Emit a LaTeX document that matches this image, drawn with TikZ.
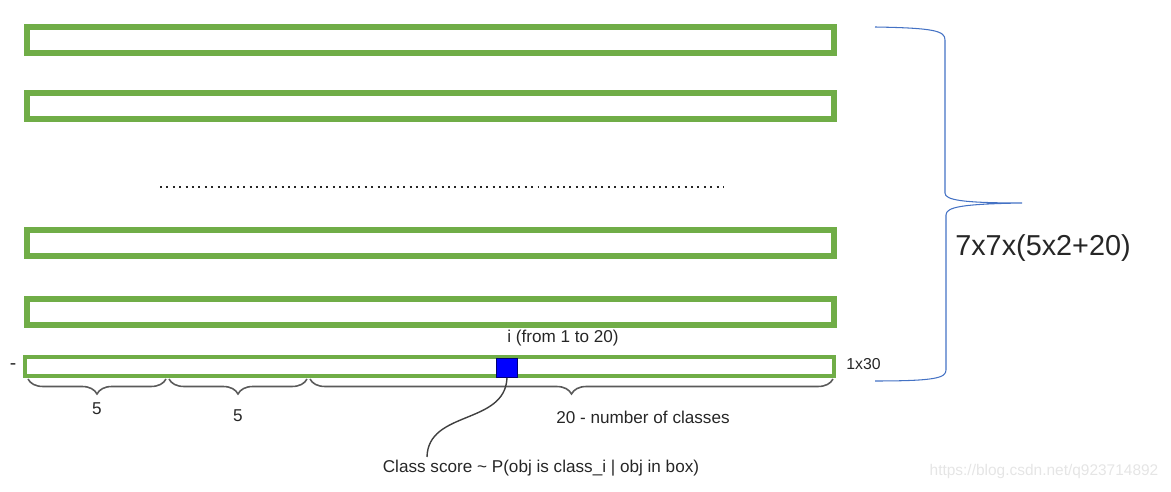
\documentclass[tikz,border=0pt]{standalone}
\usepackage{fontspec}
\setmainfont{Liberation Sans}
\usetikzlibrary{calc,positioning,decorations.pathreplacing}
\definecolor{rowgreen}{RGB}{112,173,71}
\definecolor{bracegray}{RGB}{90,90,90}
\definecolor{bigblue}{RGB}{68,114,196}
\tikzset{
  rowbox/.style={draw=rowgreen,line width=0.12cm,minimum width=16.14cm,minimum height=0.52cm,inner sep=0pt},
  vecbar/.style={draw=rowgreen,line width=0.08cm,minimum width=16.17cm,minimum height=0.38cm,inner sep=0pt},
  cellmark/.style={draw=blue!45!black,fill=blue,line width=0.5pt,minimum width=0.43cm,minimum height=0.38cm,inner sep=0pt},
  countbrace/.style={decorate,decoration={brace,mirror,amplitude=0.3cm},draw=bracegray,line width=0.9pt},
  sizebrace/.style={draw=bigblue,line width=0.6pt},
  pointer/.style={draw=black!75,line width=0.8pt},
  smalltext/.style={text=black!85,font=\fontsize{9.75}{12}\selectfont,inner sep=0pt},
  bigtext/.style={text=black!85,font=\fontsize{16.4}{19}\selectfont,inner sep=0pt},
  dotrow/.style={draw=black!85,line width=0.04cm,dash pattern=on 0.04cm off 0.088cm}
}

\begin{document}
\begin{tikzpicture}[x=0.02cm,y=-0.02cm]
  \useasboundingbox (0,0) rectangle (1171,492);
  % grid cell rows
  \node[rowbox] (row1) at (430.5,40.5) {};
  \node[rowbox] (row2) at (430.5,106.5) {};
  \node[rowbox] (row3) at (430.5,243) {};
  \node[rowbox] (row4) at (430.5,312) {};
  \draw[dotrow] (160,187) -- (724,187);
  % one cell as a vector
  \node[vecbar] (bar) at (429.5,367) {};
  \node[cellmark] (cls) at (507,368) {};
  \draw[countbrace] (28,379) -- (166,379);
  \draw[countbrace] (169,379) -- (307,379);
  \draw[countbrace] (310,379) -- (833,379);
  \node[smalltext] (box1) at (97,409) {5};
  \node[smalltext] (box2) at (238,416) {5};
  \node[smalltext] (nclass) at (643,417) {20 - number of classes};
  \node[smalltext] (idx) at (563,338) {i (from 1 to 20)};
  \node[smalltext,font=\fontsize{9}{11}\selectfont,anchor=west] (dim) at (846,364) {1x30};
  \node[smalltext,font=\fontsize{11}{12}\selectfont] (lead) at (13,367) {-};
  \node[smalltext] (score) at (541,468) {Class score \textasciitilde{} P(obj is class\_i | obj in box)};
  \coordinate (scoretip) at (427,457);
  \draw[pointer] (cls.south) .. controls (505,425) and (428,410) .. (scoretip);
  % whole output tensor
  \draw[sizebrace] (875,27) .. controls (935,28) and (945,31) .. (945,40) -- (945,193)
    .. controls (945,200) and (962,203) .. (1022,203)
    .. controls (962,204) and (946,207) .. (946,215) -- (946,370)
    .. controls (946,378) and (935,381) .. (875,381);
  \node[bigtext] (dims) at (1043,248) {7x7x(5x2+20)};
  \node[smalltext,text=black!10,font=\fontsize{8.8}{10}\selectfont] (mark) at (1044,472) {https://blog.csdn.net/q923714892};
\end{tikzpicture}
\end{document}
